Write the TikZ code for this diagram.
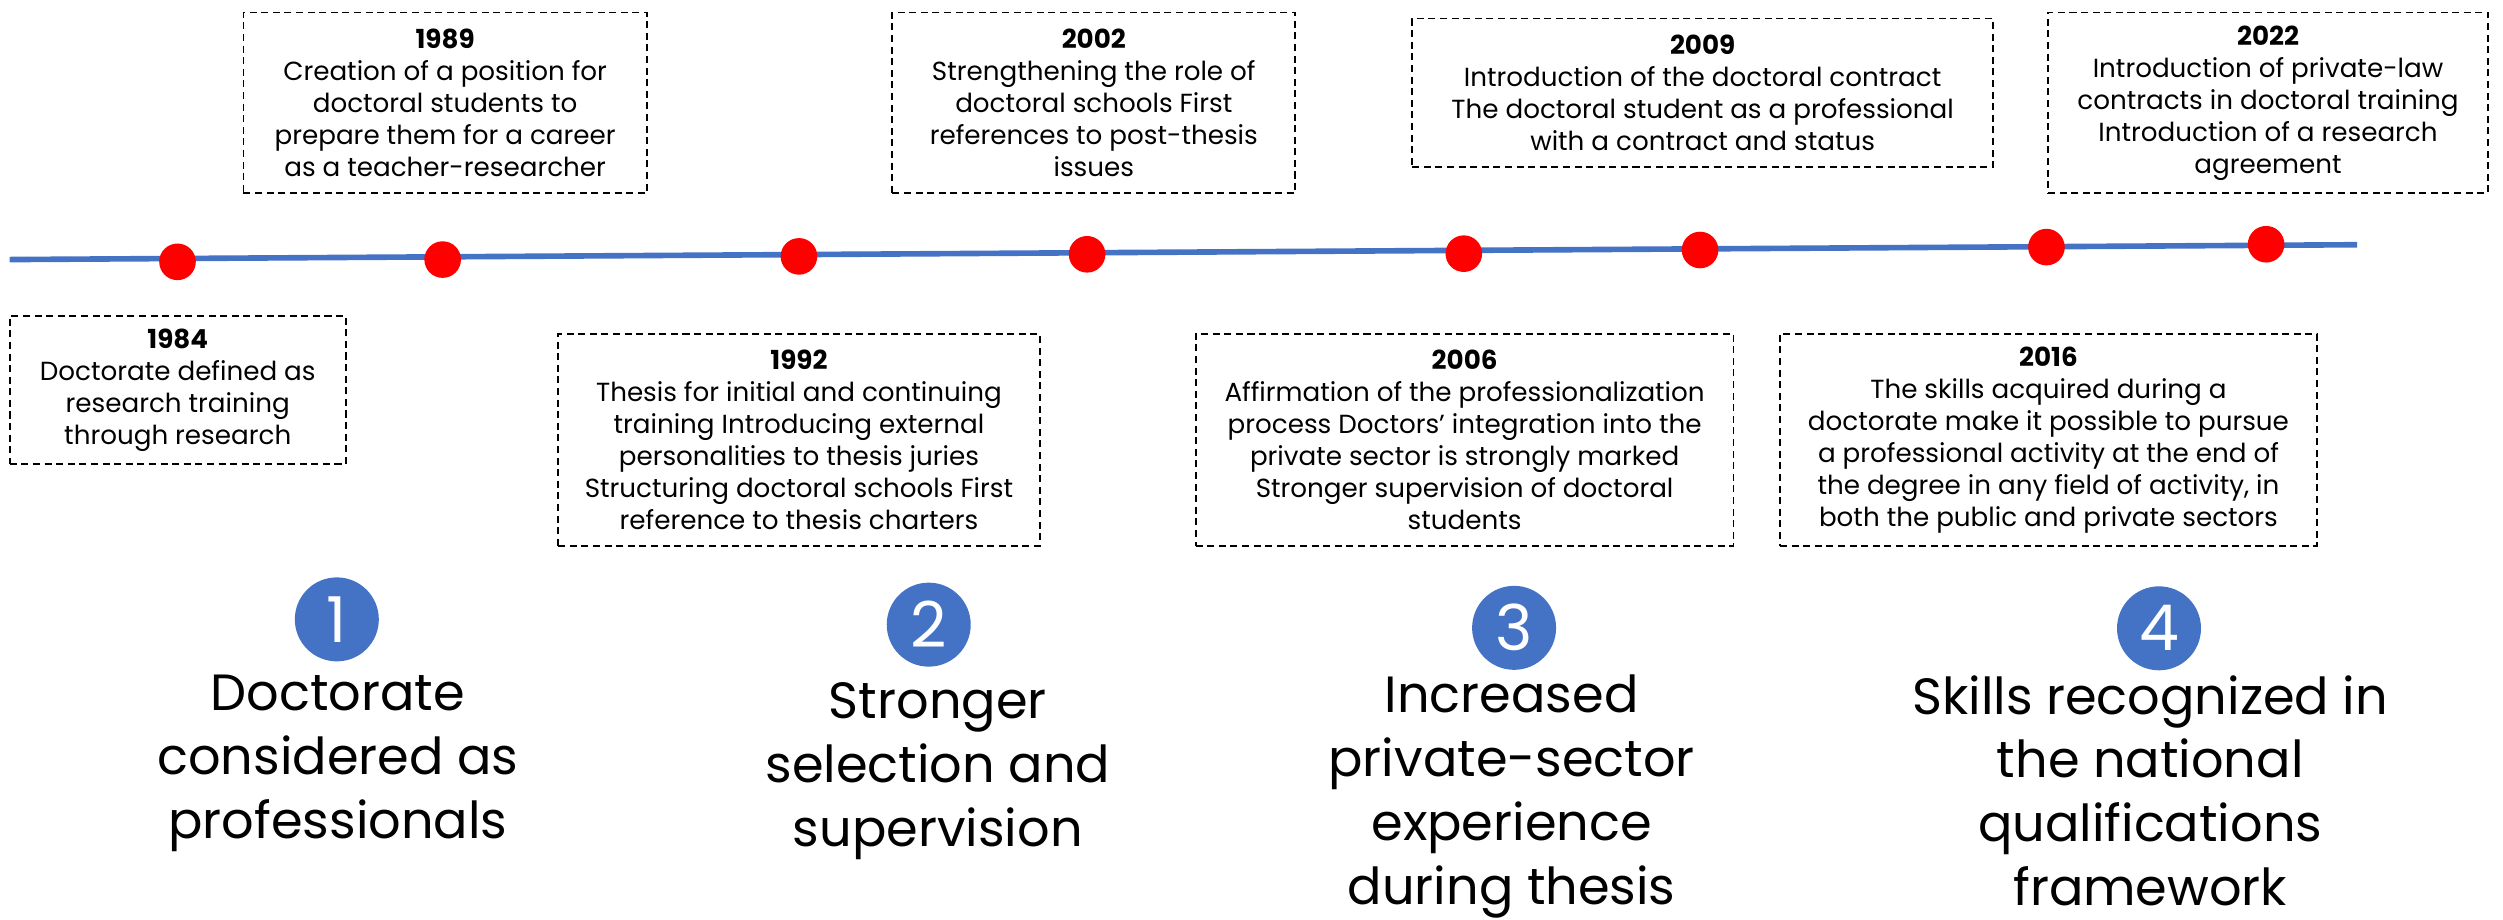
\documentclass[tikz,border=0pt]{standalone}
\usepackage{fontspec}
\setmainfont{Poppins}
\usepackage{xcolor}
\usetikzlibrary{positioning}
\definecolor{lineblue}{HTML}{4472C4}
\definecolor{dotred}{HTML}{FF0000}
\tikzset{
    event/.style={
        draw,
        dash pattern=on 2pt off 1.3pt,
        line width=0.5pt,
        align=center,
        inner sep=0pt,
        font=\fontsize{7.45}{9.1}\selectfont
    },
    dot/.style={
        circle,
        fill=dotred,
        minimum size=3.66mm,
        inner sep=0pt
    },
    stage/.style={
        circle,
        fill=lineblue,
        text=white,
        minimum size=8.4mm,
        inner sep=0pt,
        font=\fontsize{18}{18}\selectfont
    },
    phase/.style={
        align=center,
        font=\fontsize{14.5}{18.2}\selectfont
    }
}

\begin{document}
\begin{tikzpicture}[x=0.15963mm, y=-0.15963mm]
    \useasboundingbox (0,0) rectangle (1568,576);

    % timeline
    \coordinate (start) at (6,162.6);
    \coordinate (end) at (1476.6,153.3);
    \draw[lineblue, line width=1.6pt] (start) -- (end);

    \node[dot] (d1) at (111.2,164) {};
    \node[dot] (d2) at (277.3,162.6) {};
    \node[dot] (d3) at (500.5,160.6) {};
    \node[dot] (d4) at (681,159.3) {};
    \node[dot] (d5) at (917,158.9) {};
    \node[dot] (d6) at (1065,156.6) {};
    \node[dot] (d7) at (1282,154.8) {};
    \node[dot] (d8) at (1419.6,153) {};

    % events above the line
    \node[event, minimum width=40.34mm, minimum height=18.07mm] (e1989) at (278.85,64.4)
        {\textbf{1989}\\Creation of a position for\\doctoral students to\\prepare them for a career\\as a teacher-researcher};
    \node[event, minimum width=40.29mm, minimum height=18.07mm] (e2002) at (685.2,64.4)
        {\textbf{2002}\\Strengthening the role of\\doctoral schools First\\references to post-thesis\\issues};
    \node[event, minimum width=58.1mm, minimum height=14.86mm] (e2009) at (1066.6,58.15)
        {\textbf{2009}\\Introduction of the doctoral contract\\The doctoral student as a professional\\with a contract and status};
    \node[event, minimum width=44.0mm, minimum height=18.07mm] (e2022) at (1420.8,64.4)
        {\textbf{2022}\\Introduction of private-law\\contracts in doctoral training\\Introduction of a research\\agreement};

    % events below the line
    \node[event, minimum width=33.6mm, minimum height=14.85mm] (e1984) at (111.35,244.3)
        {\textbf{1984}\\Doctorate defined as\\research training\\through research};
    \node[event, minimum width=48.14mm, minimum height=21.23mm] (e1992) at (500.5,275.5)
        {\textbf{1992}\\Thesis for initial and continuing\\training Introducing external\\personalities to thesis juries\\Structuring doctoral schools First\\reference to thesis charters};
    \node[event, minimum width=53.8mm, minimum height=21.23mm] (e2006) at (917.5,275.5)
        {\textbf{2006}\\Affirmation of the professionalization\\process Doctors' integration into the\\private sector is strongly marked\\Stronger supervision of doctoral\\students};
    \node[event, minimum width=53.7mm, minimum height=21.23mm] (e2016) at (1283.25,275.5)
        {\textbf{2016}\\The skills acquired during a\\doctorate make it possible to pursue\\a professional activity at the end of\\the degree in any field of activity, in\\both the public and private sectors};

    % phases
    \node[stage] (s1) at (211,388) {1};
    \node[stage] (s2) at (581.8,391.3) {2};
    \node[stage] (s3) at (948.5,393.3) {3};
    \node[stage] (s4) at (1352.5,393.6) {4};

    \node[phase, anchor=base] (p1) at (211.7,525) {Doctorate\\considered as\\professionals};
    \node[phase, anchor=base] (p2) at (587.5,530.4) {Stronger\\selection and\\supervision};
    \node[phase, anchor=base] (p3) at (947,566.5) {Increased\\private-sector\\experience\\during thesis};
    \node[phase, anchor=base] (p4) at (1347,567.5) {Skills recognized in\\the national\\qualifications\\framework};
\end{tikzpicture}
\end{document}
